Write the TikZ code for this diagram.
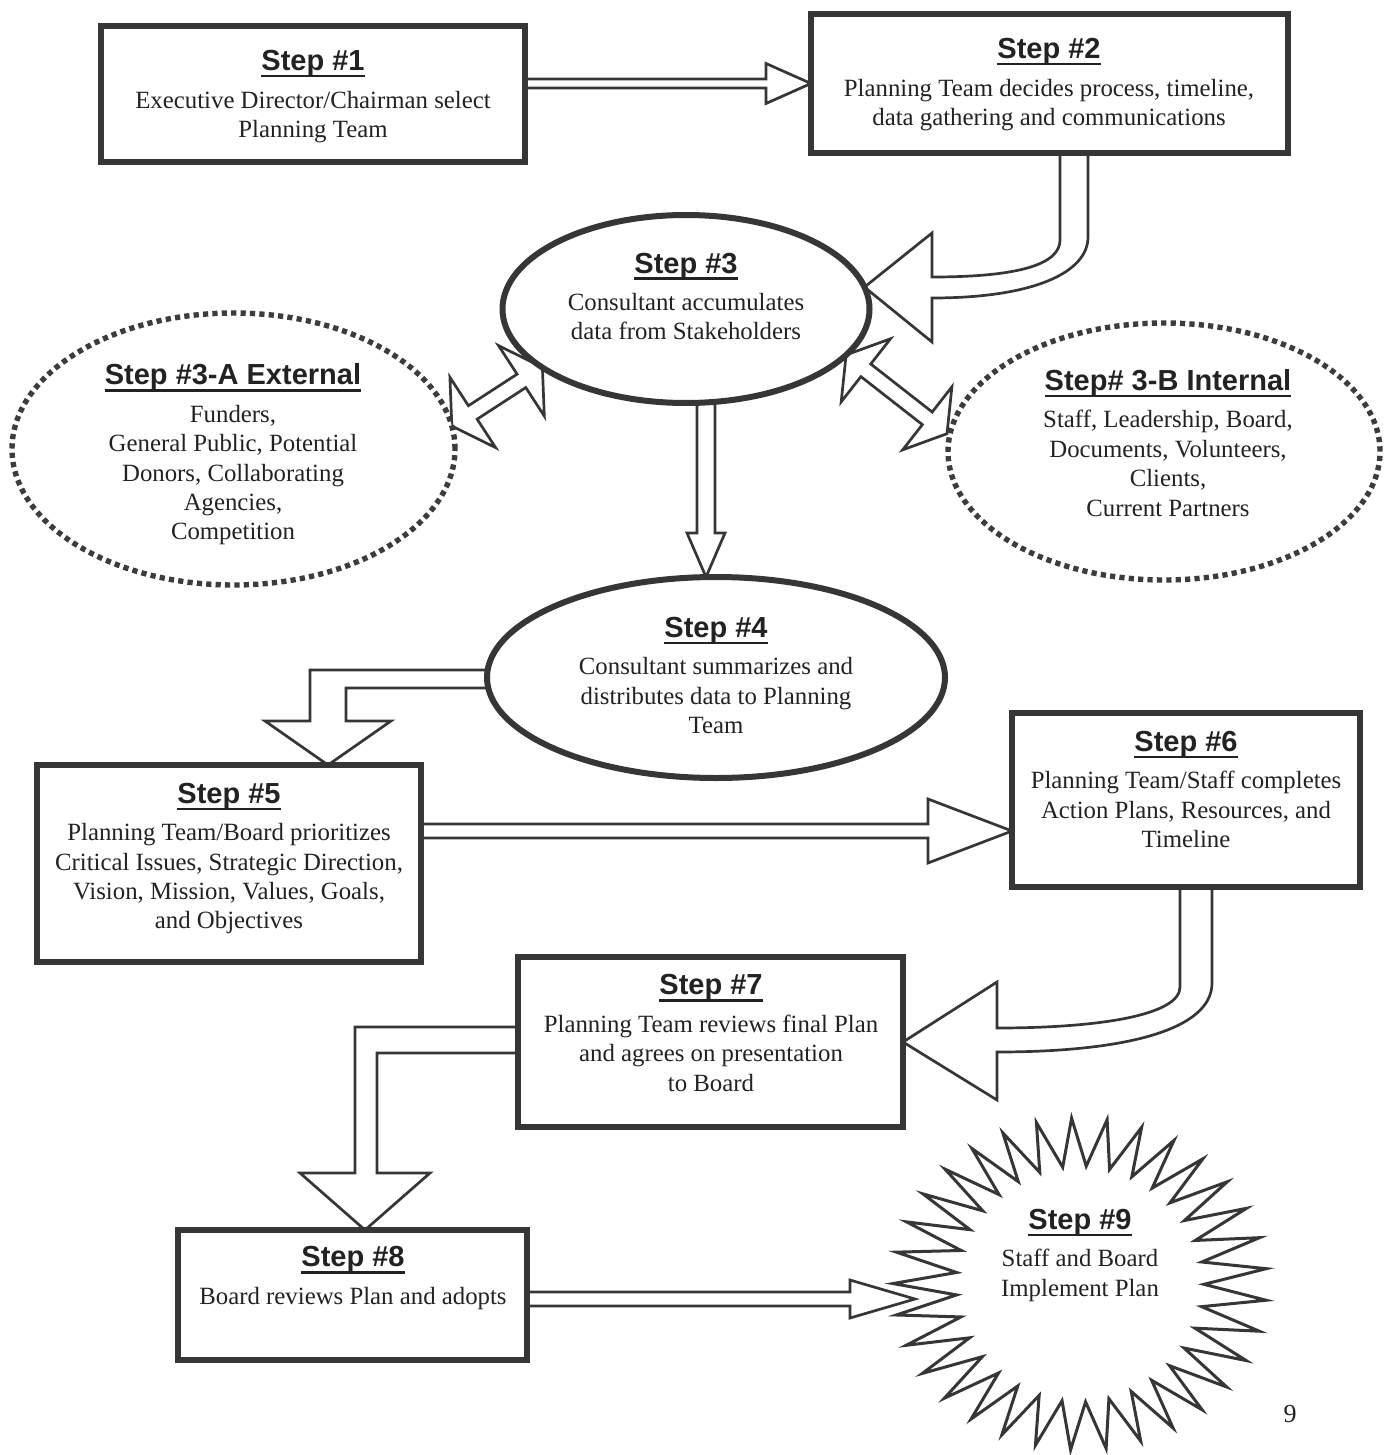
\documentclass[tikz,border=0pt]{standalone}
\usepackage{fontspec}
\setmainfont{Liberation Serif}
\newfontfamily\titlefont{Liberation Sans}
\usetikzlibrary{shapes.geometric,calc,backgrounds}
\definecolor{ink}{HTML}{222222}
\definecolor{edge}{HTML}{363636}
\definecolor{dotc}{HTML}{3C3C3C}
\newcommand\bodyf{\fontsize{12.4pt}{14.7pt}\selectfont}
\newcommand\steptitle[1]{{\titlefont\bfseries\fontsize{14.5pt}{17pt}\selectfont\setbox0\hbox{#1}\rlap{\rule[-3.4pt]{\wd0}{1.2pt}}\box0}}
\begin{document}
\begin{tikzpicture}[x=0.5pt,y=-0.5pt,
 boxst/.style={draw=edge, line width=2.6pt, fill=white, rectangle, inner sep=0pt, outer sep=0pt},
 ovalst/.style={draw=edge, line width=3pt, fill=white, ellipse, inner sep=0pt, outer sep=0pt},
 dotoval/.style={draw=dotc, line width=2.7pt, dash pattern=on 2.6pt off 2.1pt, fill=white, ellipse, inner sep=0pt, outer sep=0pt},
 txt/.style={align=center, font=\bodyf, text=ink, inner sep=0pt},
 harrow/.style={draw=edge, fill=white, line width=1.35pt, line join=miter},
 starst/.style={draw=edge, fill=white, line width=1.5pt, line join=miter}]
\useasboundingbox (0,0) rectangle (1383,1455);

% shapes
\node[boxst, minimum width=212pt, minimum height=68pt] (s1) at (313,94) {};
\node[boxst, minimum width=238.5pt, minimum height=69.5pt] (s2) at (1049.5,83.5) {};
\node[ovalst, minimum width=183.5pt, minimum height=94pt] (s3) at (686,309) {};
\node[dotoval, minimum width=221.5pt, minimum height=136pt] (s3a) at (233.5,449) {};
\node[dotoval, minimum width=216pt, minimum height=128.5pt] (s3b) at (1164,451.5) {};
\node[ovalst, minimum width=229pt, minimum height=100.5pt] (s4) at (716,677.5) {};
\node[boxst, minimum width=192pt, minimum height=98.5pt] (s5) at (229,863.5) {};
\node[boxst, minimum width=174pt, minimum height=87pt] (s6) at (1186,800) {};
\node[boxst, minimum width=192.5pt, minimum height=85pt] (s7) at (710.5,1042) {};
\node[boxst, minimum width=174.5pt, minimum height=65pt] (s8) at (352.5,1295) {};
\coordinate (s9) at (1080,1284);

% starburst
\begin{scope}[shift={(s9)}]
\draw[starst] plot[samples at={0,...,65}, variable=\k]
  ({(124+63*mod(\k,2))*cos(174.7+\k*5.454545)}, {(118+48*mod(\k,2))*sin(174.7+\k*5.454545)}) -- cycle;
\end{scope}

% texts
\node[txt] (t1) at (313,96.6) {\steptitle{Step \#1}\\[4pt]Executive Director/Chairman select\\Planning Team};
\node[txt] (t2) at (1049,84.6) {\steptitle{Step \#2}\\[4pt]Planning Team decides process, timeline,\\data gathering and communications};
\node[txt] (t3) at (686,296.4) {\steptitle{Step \#3}\\[4pt]Consultant accumulates\\data from Stakeholders};
\node[txt] (t3a) at (233,454.6) {\steptitle{Step \#3-A External}\\[4pt]Funders,\\General Public, Potential\\Donors, Collaborating\\Agencies,\\Competition};
\node[txt] (t3b) at (1168,442.9) {\steptitle{Step\# 3-B Internal}\\[4pt]Staff, Leadership, Board,\\Documents, Volunteers,\\Clients,\\Current Partners};
\node[txt] (t4) at (716,675.4) {\steptitle{Step \#4}\\[4pt]Consultant summarizes and\\distributes data to Planning\\Team};
\node[txt] (t5) at (229,858.6) {\steptitle{Step \#5}\\[4pt]Planning Team/Board prioritizes\\Critical Issues, Strategic Direction,\\Vision, Mission, Values, Goals,\\and Objectives};
\node[txt] (t6) at (1186,789.4) {\steptitle{Step \#6}\\[4pt]Planning Team/Staff completes\\Action Plans, Resources, and\\Timeline};
\node[txt] (t7) at (711,1032.9) {\steptitle{Step \#7}\\[4pt]Planning Team reviews final Plan\\and agrees on presentation\\to Board};
\node[txt] (t8) at (353,1278.1) {\steptitle{Step \#8}\\[4pt]Board reviews Plan and adopts};
\node[txt] (t9) at (1080,1255.1) {\steptitle{Step \#9}\\[4pt]Staff and Board\\Implement Plan};
\node[txt, font=\fontsize{13pt}{15pt}\selectfont] (pg) at (1290,1414) {9};

% connectors
\begin{pgfonlayer}{background}
\filldraw[harrow] ($(s1.east|-s2.west)+(-6,-4.5)$) -- ($(s2.west)+(-45,-4.5)$) -- ($(s2.west)+(-45,-20)$) -- (s2.west)
  -- ($(s2.west)+(-45,20)$) -- ($(s2.west)+(-45,4.5)$) -- ($(s1.east|-s2.west)+(-6,4.5)$);
\filldraw[harrow] ($(s2.south)+(10.5,-4)$) -- (1060,240) .. controls (1060,264) and (1020,277) .. (932,277)
  -- (932,233) -- (s3.7) -- (932,342) -- (932,298) .. controls (1035,298) and (1088,272) .. (1088,237)
  -- ($(s2.south)+(38.5,-4)$);
\begin{scope}[shift={(s3a.6)}, rotate=33]
\filldraw[harrow] (0,0) -- (25,42) -- (25,8) -- (83,8) -- (83,42) -- (108,0) -- (83,-42) -- (83,-8) -- (25,-8) -- (25,-42) -- cycle;
\end{scope}
\begin{scope}[shift={(s3.-16)}, rotate=-38]
\filldraw[harrow] (0,0) -- (25,40) -- (25,8) -- (103,8) -- (103,40) -- (128,0) -- (103,-40) -- (103,-8) -- (25,-8) -- (25,-40) -- cycle;
\end{scope}
\coordinate (a34) at ($(s4.north)+(-10,0)$);
\filldraw[harrow] ($(s3.south)+(11,-4)$) -- (697,533) -- (687,533) -- (a34) -- (725,533) -- (715,533) -- ($(s3.south)+(29,-4)$);
\coordinate (a45) at ($(s5.north)+(99,0)$);
\filldraw[harrow] ($(s4.west)+(8,-7.5)$) -- (310,670) -- (310,721) -- (265,721) -- (a45) -- (391,721) -- (346,721) -- (346,688) -- ($(s4.west)+(8,10.5)$);
\coordinate (a56) at ($(s6.west)+(0,31)$);
\filldraw[harrow] ($(s5.east|-a56)+(-8,-7)$) -- ($(a56)+(-84,-7)$) -- ($(a56)+(-84,-32)$) -- (a56)
  -- ($(a56)+(-84,32)$) -- ($(a56)+(-84,7)$) -- ($(s5.east|-a56)+(-8,7)$);
\filldraw[harrow] ($(s6.south)+(-6,-8)$) -- (1180,987) .. controls (1180,1015) and (1100,1028) .. (997,1028)
  -- (997,982) -- (s7.east) -- (997,1100) -- (997,1052) .. controls (1125,1052) and (1212,1030) .. (1212,983)
  -- ($(s6.south)+(26,-8)$);
\coordinate (a78) at ($(s8.north)+(12.5,0)$);
\filldraw[harrow] ($(s7.west)+(8,-15)$) -- (355,1027) -- (355,1173) -- (300,1173) -- (a78) -- (430,1173) -- (377,1173) -- (377,1053) -- ($(s7.west)+(8,11)$);
\coordinate (a89) at ($(s9)+(-165,15)$);
\filldraw[harrow] ($(s8.east|-a89)+(-8,-7)$) -- ($(a89)+(-65,-7)$) -- ($(a89)+(-65,-19)$) -- (a89)
  -- ($(a89)+(-65,19)$) -- ($(a89)+(-65,7)$) -- ($(s8.east|-a89)+(-8,7)$);
\end{pgfonlayer}
\end{tikzpicture}
\end{document}
